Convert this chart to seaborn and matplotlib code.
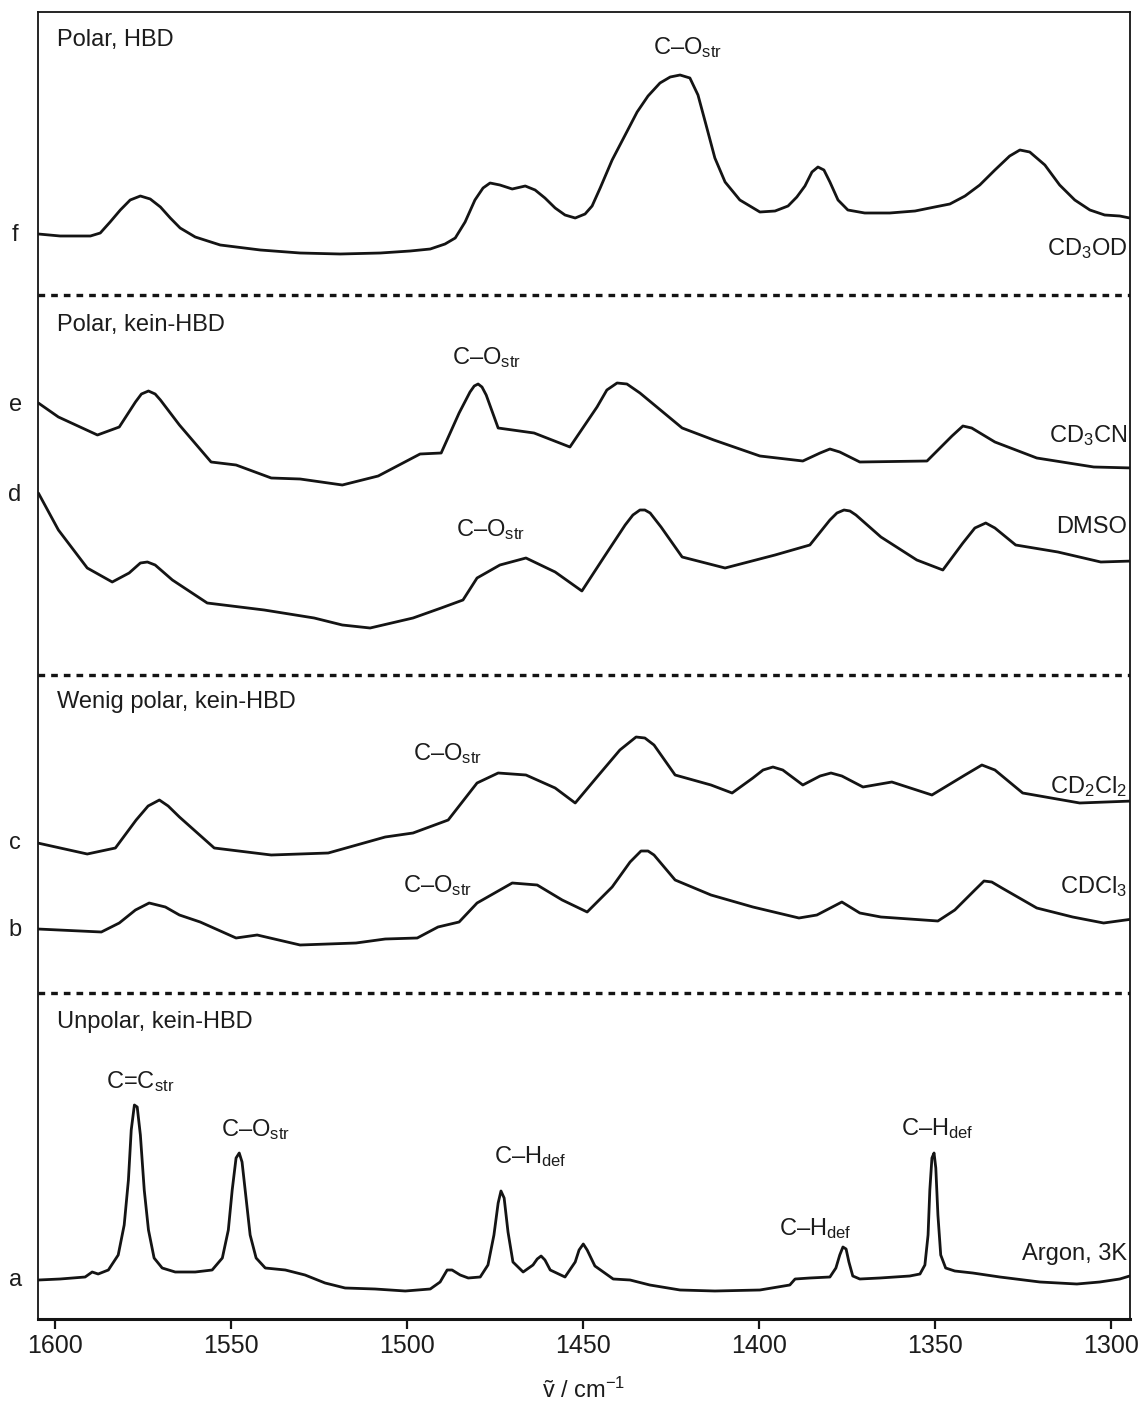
import numpy as np
import pandas as pd
import matplotlib
matplotlib.use("Agg")
import matplotlib.pyplot as plt
import matplotlib.transforms as mtransforms
from matplotlib import font_manager
import seaborn as sns

# ---------------- data ----------------
wn_a = [1604.8,1598.6,1591.5,1589.5,1587.8,1584.9,1582.1,1580.4,1579.2,1578.4,
        1577.5,1576.7,1575.8,1574.7,1573.5,1571.9,1569.6,1565.9,1560.2,1555.4,
        1552.5,1550.8,1549.7,1548.6,1547.7,1546.9,1545.7,1544.6,1542.9,1540.3,
        1534.6,1529.0,1523.3,1517.6,1509.1,1500.5,1493.4,1490.6,1488.6,1487.2,
        1484.9,1482.6,1479.2,1477.0,1475.3,1474.1,1473.3,1472.4,1471.3,1469.9,
        1467.0,1464.2,1463.0,1461.9,1460.8,1459.3,1455.1,1452.2,1451.1,1449.9,
        1448.8,1446.6,1441.4,1436.6,1431.0,1422.4,1412.5,1399.7,1391.2,1389.7,
        1385.5,1379.8,1378.1,1377.0,1376.1,1375.2,1374.4,1373.3,1371.3,1365.6,
        1357.1,1354.2,1352.8,1351.9,1351.4,1350.8,1350.2,1349.7,1349.1,1348.3,
        1346.9,1344.3,1339.2,1331.5,1320.1,1309.6,1303.1,1297.4,1294.6]
int_a = [0,1,3,8,6,10,25,55,100,150,
         175,173,145,90,50,22,12,8,8,10,
         22,50,90,122,127,118,80,45,22,12,
         10,5,-3,-8,-9,-11,-9,-2,10,10,
         5,2,3,15,45,77,89,82,48,18,
         8,15,21,24,20,10,3,18,30,36,
         30,14,1,0,-5,-10,-11,-10,-5,1,
         2,3,12,25,33,31,18,4,1,2,
         4,6,15,45,90,122,127,112,65,25,
         12,9,7,3,-2,-4,-2,1,4]

wn_b = [1605.0,1586.9,1581.8,1577.2,1573.3,1568.7,1564.7,1558.8,1548.6,1542.6,
        1530.4,1514.5,1506.2,1497.1,1491.2,1485.2,1480.1,1470.1,1463.0,1455.9,
        1448.8,1441.7,1436.6,1433.5,1431.5,1429.8,1423.8,1413.6,1401.7,1388.6,
        1383.5,1376.4,1371.3,1365.3,1349.1,1344.3,1338.6,1336.0,1333.8,1330.9,
        1321.0,1310.8,1302.0,1293.7]
int_b = [1,-2,7,20,27,23,15,8,-8,-5,
         -15,-13,-9,-8,3,8,27,47,45,30,
         18,43,68,79,79,75,50,35,23,12,
         15,28,17,13,9,20,40,49,48,42,
         22,13,7,11]

wn_c = [1605.0,1590.9,1582.9,1577.0,1573.6,1570.4,1567.9,1564.7,1554.8,1538.6,
        1522.4,1506.2,1498.3,1488.3,1480.1,1474.1,1466.2,1457.9,1452.2,1446.0,
        1439.5,1434.9,1432.4,1429.8,1423.8,1413.6,1407.6,1401.7,1398.8,1396.0,
        1393.2,1387.5,1382.6,1379.5,1376.4,1370.4,1362.2,1350.8,1341.4,1336.6,
        1332.9,1325.0,1308.8,1293.7]
int_c = [0,-11,-5,23,37,43,37,26,-5,-12,
         -10,6,10,23,60,70,68,55,40,66,
         93,106,105,98,68,58,50,65,73,76,
         73,58,67,70,67,56,61,48,68,78,
         73,50,40,42]

wn_d = [1604.8,1599.1,1590.9,1583.8,1579.0,1575.8,1573.8,1571.6,1566.7,1556.8,
        1540.6,1526.4,1518.4,1510.5,1498.3,1490.3,1484.1,1480.1,1473.6,1466.2,
        1457.9,1450.3,1444.0,1438.0,1435.8,1433.8,1432.4,1430.9,1427.8,1421.8,
        1409.6,1395.4,1385.5,1379.8,1377.8,1375.8,1374.1,1372.4,1365.3,1355.1,
        1347.7,1342.0,1338.6,1335.5,1332.9,1327.0,1315.0,1302.8,1293.7]
int_d = [2,-35,-73,-87,-78,-68,-67,-70,-85,-108,
         -115,-123,-130,-133,-123,-113,-105,-83,-70,-63,
         -77,-96,-62,-30,-20,-15,-15,-18,-32,-62,
         -73,-60,-50,-25,-18,-15,-16,-20,-42,-65,
         -75,-48,-33,-28,-33,-50,-57,-67,-66]

wn_e = [1604.8,1599.1,1588.0,1581.8,1577.2,1575.5,1573.5,1571.6,1570.1,1564.7,
        1555.7,1548.6,1538.6,1530.4,1518.4,1508.2,1496.3,1490.3,1485.2,1482.1,
        1480.9,1479.8,1478.7,1477.5,1474.1,1463.9,1453.7,1446.0,1443.2,1440.3,
        1437.5,1433.8,1421.8,1412.8,1399.7,1387.5,1382.6,1379.8,1377.0,1371.3,
        1352.2,1345.1,1342.0,1339.5,1332.9,1321.0,1304.8,1293.7]
int_e = [2,-12,-30,-22,3,11,14,11,5,-20,
         -57,-60,-73,-74,-80,-71,-49,-48,-8,13,
         19,21,18,10,-23,-28,-42,-2,15,22,
         21,12,-23,-35,-51,-56,-48,-44,-47,-57,
         -56,-31,-21,-23,-37,-53,-62,-63]

wn_f = [1604.8,1598.6,1590.0,1587.2,1584.4,1581.5,1578.7,1575.8,1573.0,1570.1,
        1567.3,1564.5,1560.2,1553.1,1541.7,1530.4,1519.0,1507.6,1499.1,1493.4,
        1489.2,1486.3,1483.5,1480.7,1478.4,1476.4,1473.6,1470.1,1466.4,1463.6,
        1460.8,1457.9,1455.1,1452.2,1449.4,1447.4,1445.1,1441.7,1438.0,1434.6,
        1431.5,1428.1,1425.2,1422.4,1419.6,1417.3,1415.0,1412.5,1409.6,1405.4,
        1399.7,1395.4,1391.7,1389.2,1386.9,1384.9,1383.2,1381.5,1379.8,1377.5,
        1374.7,1369.9,1362.8,1355.6,1350.0,1345.7,1341.4,1337.2,1332.9,1328.7,
        1325.8,1323.0,1318.7,1314.5,1310.2,1305.9,1301.7,1297.4,1294.6]
int_f = [1,-1,-1,2,13,25,35,39,36,28,
         17,7,-2,-10,-15,-18,-19,-18,-16,-14,
         -9,-3,13,35,47,52,50,46,49,45,
         37,27,20,17,21,29,47,75,100,123,
         139,152,158,160,157,140,110,77,53,35,
         23,24,29,38,49,63,68,65,53,35,
         25,22,22,24,28,31,39,50,65,79,
         85,83,70,50,35,25,20,19,17]

spectra_ids = ["a", "b", "c", "d", "e", "f"]
solvents = ["Argon, 3K", "CDCl$_3$", "CD$_2$Cl$_2$", "DMSO", "CD$_3$CN", "CD$_3$OD"]
groups = ["Unpolar, kein-HBD", "Wenig polar, kein-HBD", "Polar, kein-HBD", "Polar, HBD"]
xticks = [1600, 1550, 1500, 1450, 1400, 1350, 1300]

# ---------------- layout / style ----------------
offsets = {"a": 39, "b": 389, "c": 476, "d": 824, "e": 914, "f": 1084}
wns = {"a": wn_a, "b": wn_b, "c": wn_c, "d": wn_d, "e": wn_e, "f": wn_f}
ints = {"a": int_a, "b": int_b, "c": int_c, "d": int_d, "e": int_e, "f": int_f}

frames = []
for k in spectra_ids:
    frames.append(pd.DataFrame({"wn": wns[k],
                                "y": np.asarray(ints[k], float) + offsets[k],
                                "spec": k}))
df = pd.concat(frames, ignore_index=True)

sns.set_style("white")
names = {f.name for f in font_manager.fontManager.ttflist}
base_font = "Liberation Sans" if "Liberation Sans" in names else "DejaVu Sans"
plt.rcParams["font.family"] = [base_font, "DejaVu Sans"]
plt.rcParams["mathtext.fontset"] = "custom"
plt.rcParams["mathtext.rm"] = base_font
plt.rcParams["mathtext.it"] = base_font + ":italic"
plt.rcParams["mathtext.bf"] = base_font + ":bold"
plt.rcParams["mathtext.default"] = "regular"

TXT = "#1c1c1c"
FS = 17

fig = plt.figure(figsize=(11.46, 14.02), dpi=100)
ax = fig.add_axes([38/1146, 83/1402, 1092/1146, 1307/1402])

sns.lineplot(data=df, x="wn", y="y", units="spec", estimator=None, sort=False,
             color="#141414", lw=2.0, ax=ax, legend=False)

ax.set_xlim(1604.9, 1294.5)
ax.set_ylim(0, 1307)
ax.set_xticks(xticks)
ax.set_xticklabels([str(t) for t in xticks], fontsize=18, color=TXT)
ax.set_yticks([])
ax.tick_params(axis="x", direction="out", length=7.5, width=1.6, color="#141414", pad=3,
               bottom=True, top=False)
for side in ["left", "right", "top"]:
    ax.spines[side].set_linewidth(1.3)
    ax.spines[side].set_color("#141414")
ax.spines["bottom"].set_linewidth(2.2)
ax.spines["bottom"].set_color("#141414")

ax.set_xlabel("ṽ / cm$^{-1}$", fontsize=17, color=TXT)
ax.set_ylabel("")
ax.xaxis.set_label_coords(0.5, -0.0545)
ax.xaxis.label.set_va("center")

# separators
for ysep in [326, 644, 1024]:
    ax.axhline(ysep, color="#141414", lw=2.4, ls=(0, (2.0, 1.8)))

# letters on the left, solvent names on the right
trans_l = mtransforms.blended_transform_factory(ax.transAxes, ax.transData)
for k in spectra_ids:
    ax.text(-0.021, offsets[k], k, transform=trans_l, ha="center", va="center",
            fontsize=FS, color=TXT, clip_on=False)

solvent_y = {"a": 59, "b": 426, "c": 526, "d": 786, "e": 877, "f": 1064}
for k, solv in zip(spectra_ids, solvents):
    ax.text(0.9975, solvent_y[k], solv, transform=trans_l, ha="right", va="baseline",
            fontsize=FS, color=TXT)

# group titles
for g, yg in zip(groups, [297, 617, 994, 1279]):
    ax.text(0.0174, yg, g, transform=trans_l, ha="left", va="center", fontsize=FS, color=TXT)

# peak annotations
CO = "C–O$_{\\mathregular{str}}$"
CH = "C–H$_{\\mathregular{def}}$"
CC = "C=C$_{\\mathregular{str}}$"
annots = [(CO, 1420.4, 1265), (CO, 1477.3, 955), (CO, 1476.4, 783),
          (CO, 1488.6, 559), (CO, 1491.4, 427),
          (CC, 1575.8, 231), (CO, 1543.2, 183), (CH, 1465.0, 156),
          (CH, 1384.1, 84), (CH, 1349.4, 184)]
for s, xw, yb in annots:
    ax.text(xw, yb, s, ha="center", va="baseline", fontsize=FS, color=TXT)

fig.savefig("out.png", dpi=100, facecolor="white")
